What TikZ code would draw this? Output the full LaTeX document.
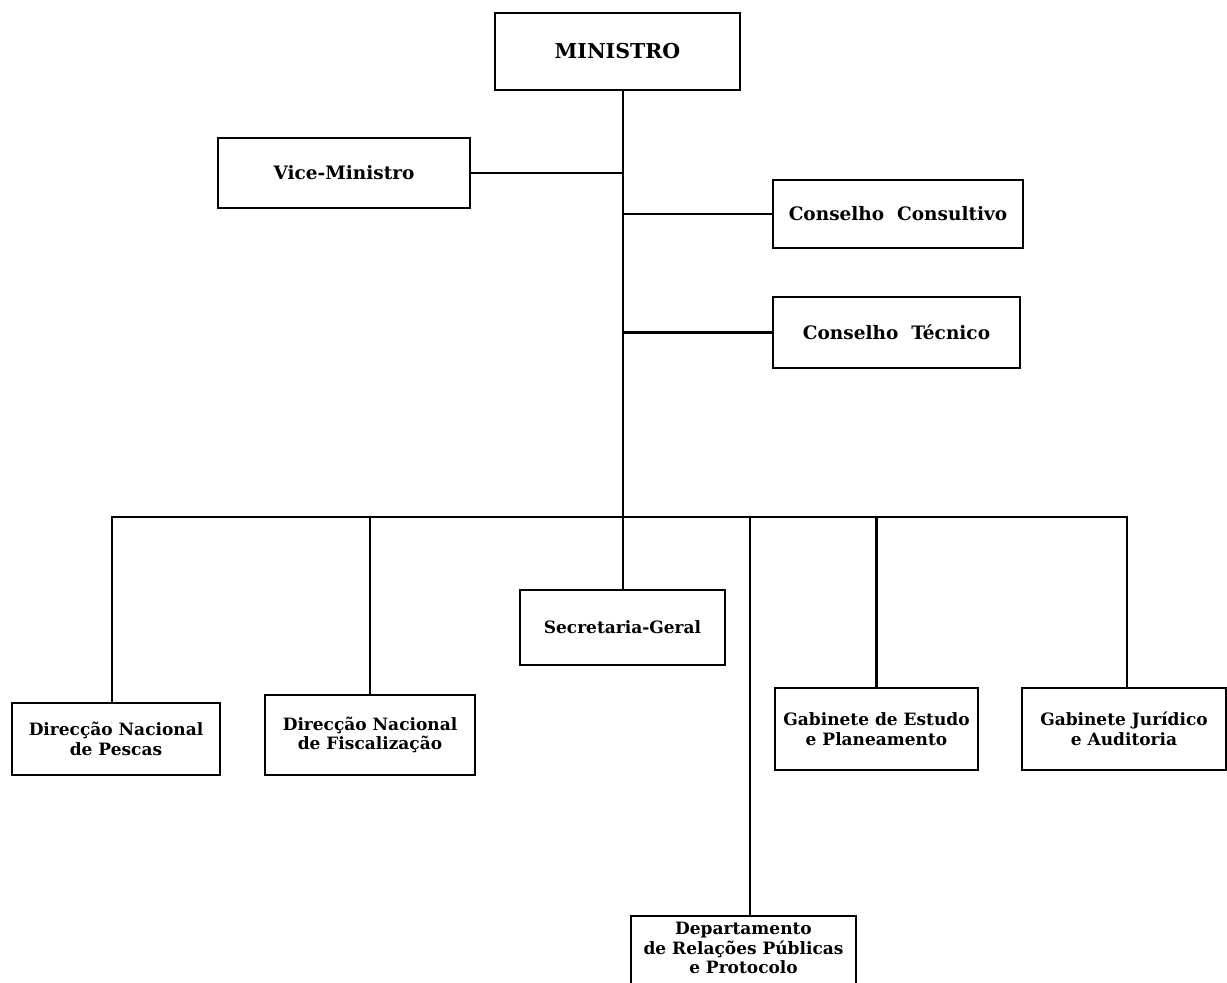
\documentclass[tikz,border=0pt]{standalone}
\usepackage{fontspec}
\setmainfont{DejaVu Serif}
\begin{document}
\begin{tikzpicture}[x=1pt,y=-1pt,
  box/.style={draw,line width=2.4pt,align=center,inner sep=0pt,font=\bfseries\fontsize{18.5}{22}\selectfont},
  lowbox/.style={draw,line width=2.4pt,align=center,inner sep=0pt,font=\bfseries\fontsize{17}{19.5}\selectfont},
  conn/.style={line width=2.4pt}]
\useasboundingbox (0,0) rectangle (1227,983);
\node[box,minimum width=245pt,minimum height=77pt,font=\bfseries\fontsize{20.5}{24}\selectfont] (min) at (617.5,51.5) {MINISTRO};
\node[box,minimum width=252pt,minimum height=70pt] (vice) at (344,173) {Vice-Ministro};
\node[box,minimum width=250pt,minimum height=68pt] (cc) at (898,214) {Conselho\ \ Consultivo};
\node[box,minimum width=247pt,minimum height=71pt] (ct) at (896.5,332.5) {Conselho\ \ Técnico};
\node[lowbox,minimum width=205pt,minimum height=75pt] (sec) at (622.5,627.5) {Secretaria-Geral};
\node[lowbox,minimum width=208pt,minimum height=72pt] (dnp) at (116,739) {Direcção Nacional\\de Pescas};
\node[lowbox,minimum width=210pt,minimum height=80pt] (dnf) at (370,735) {Direcção Nacional\\de Fiscalização};
\node[lowbox,minimum width=203pt,minimum height=82pt] (gee) at (876.5,729) {Gabinete de Estudo\\e Planeamento};
\node[lowbox,minimum width=204pt,minimum height=82pt] (gja) at (1124,729) {Gabinete Jurídico\\e Auditoria};
\node[lowbox,draw=none,minimum width=223pt,minimum height=62pt] (dep) at (743.5,948) {Departamento\\de Relações Públicas\\e Protocolo};
\draw[conn] (dep.north west) ++(0,70) -- (dep.north west) -- (dep.north east) -- ++(0,70);
\coordinate (trunk) at (623,517);
\coordinate (busL) at (112,517);
\coordinate (busR) at (1127,517);
\coordinate (dd) at (750,517);
\draw[conn] (min.south -| trunk) -- (trunk);
\draw[conn] (vice.east) -- (vice.east -| trunk);
\draw[conn] (cc.west) -- (cc.west -| trunk);
\draw[conn] (ct.west) -- (ct.west -| trunk);
\draw[conn,line cap=rect] (busL) -- (busR);
\draw[conn] (busL) -- (busL |- dnp.north);
\draw[conn] (dnf.north |- trunk) -- (dnf.north);
\draw[conn] (trunk) -- (trunk |- sec.north);
\draw[conn] (dd) -- (dd |- dep.north);
\draw[conn] (gee.north |- trunk) -- (gee.north);
\draw[conn] (busR) -- (busR |- gja.north);
\end{tikzpicture}
\end{document}
